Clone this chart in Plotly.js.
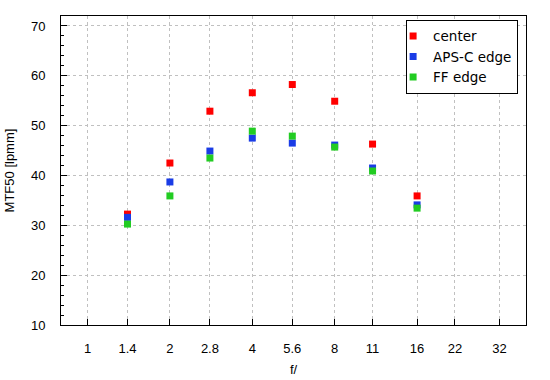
<!DOCTYPE html>
<html>
<head>
<meta charset="utf-8">
<script src="https://cdn.plot.ly/plotly-3.0.1.min.js"></script>
<style>
html,body{margin:0;padding:0;background:#fff;}
#chart{width:550px;height:380px;}
</style>
</head>
<body>
<div id="chart"></div>
<script>
// f-stop positions of the measurements
var apertures = [1.4, 2, 2.8, 4, 5.6, 8, 11, 16];
// MTF50 values [lpmm]
var centerVals = [32.25, 42.5, 52.9, 56.6, 58.25, 54.9, 46.3, 35.9];
var apscVals   = [31.6, 38.7, 44.9, 47.5, 46.5, 46.1, 41.5, 34.1];
var ffVals     = [30.25, 35.9, 43.5, 48.9, 47.9, 45.7, 40.9, 33.45];
// axis tick labels
var xTickVals = [1, 1.4, 2, 2.8, 4, 5.6, 8, 11, 16, 22, 32];
var xTickText = ['1', '1.4', '2', '2.8', '4', '5.6', '8', '11', '16', '22', '32'];
var seriesNames = ['center', 'APS-C edge', 'FF edge'];
var seriesColors = ['#ff0000', '#1a3ce6', '#22cc22'];
var seriesVals = [centerVals, apscVals, ffVals];

var traces = seriesVals.map(function (vals, i) {
  return {
    type: 'scatter',
    mode: 'markers',
    x: apertures,
    y: vals,
    name: seriesNames[i],
    marker: {symbol: 'square', size: 7, color: seriesColors[i], line: {width: 0}},
    hoverinfo: 'x+y+name'
  };
});

var tickFont = {family: '"Liberation Sans", Arial, sans-serif', size: 13, color: '#000'};

var layout = {
  width: 550,
  height: 380,
  margin: {l: 61, r: 24, t: 16, b: 55, pad: 0},
  paper_bgcolor: '#fff',
  plot_bgcolor: '#fff',
  showlegend: true,
  xaxis: {
    type: 'log',
    range: [Math.log10(0.8), Math.log10(40)],
    tickmode: 'array',
    tickvals: xTickVals,
    ticktext: xTickText,
    ticks: 'inside',
    ticklen: 6,
    tickwidth: 1,
    tickcolor: '#000',
    showline: true,
    linecolor: '#000',
    linewidth: 1,
    mirror: true,
    showgrid: true,
    gridcolor: '#c0c0c0',
    gridwidth: 1,
    griddash: 'dot',
    zeroline: false,
    tickfont: tickFont,
    ticklabelstandoff: 11,
    title: {text: 'f/', font: tickFont, standoff: 10}
  },
  yaxis: {
    range: [10, 72],
    tickmode: 'linear',
    tick0: 10,
    dtick: 10,
    ticks: 'inside',
    ticklen: 6,
    tickwidth: 1,
    tickcolor: '#000',
    minor: {dtick: 2, ticks: 'inside', ticklen: 3, tickcolor: '#000', tickwidth: 1, showgrid: false},
    showline: true,
    linecolor: '#000',
    linewidth: 1,
    mirror: true,
    showgrid: true,
    gridcolor: '#c0c0c0',
    gridwidth: 1,
    griddash: 'dot',
    zeroline: false,
    tickfont: tickFont,
    ticklabelstandoff: 12,
    title: {text: 'MTF50 [lpmm]', font: tickFont, standoff: 13}
  },
  legend: {
    x: 0.983,
    xanchor: 'right',
    y: 0.988,
    yanchor: 'top',
    bgcolor: '#fff',
    bordercolor: '#000',
    borderwidth: 1,
    indentation: -14,
    font: {family: '"DejaVu Sans", Verdana, sans-serif', size: 13.5, color: '#000'}
  }
};

Plotly.newPlot('chart', traces, layout, {displayModeBar: false, staticPlot: true});
</script>
</body>
</html>
